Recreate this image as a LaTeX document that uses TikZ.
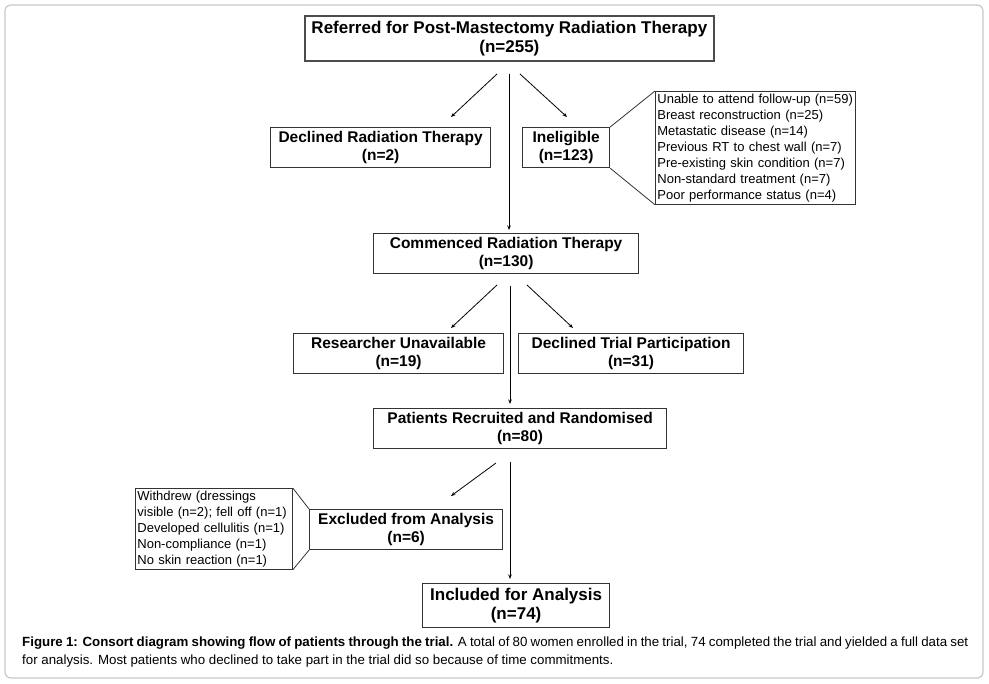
\documentclass[tikz,border=0pt]{standalone}
\usepackage{fontspec}
\setmainfont{Liberation Sans}
\usetikzlibrary{arrows.meta}
\begin{document}
\begin{tikzpicture}[x=1pt,y=-1pt,
  box/.style={draw=black!80, line width=1.2pt, align=center, inner sep=0pt, anchor=north west,
    font=\bfseries\fontsize{15.5}{17.5}\selectfont},
  bigbox/.style={box, font=\bfseries\fontsize{17}{19}\selectfont},
  topbox/.style={bigbox, draw=black!70, line width=1.8pt},
  callout/.style={draw=black!80, line width=0.8pt, align=left, inner xsep=2pt, inner ysep=0pt, anchor=north west,
    font=\fontsize{13}{16}\selectfont},
  arr/.style={-{Stealth[length=4.5pt,width=3.5pt]}, line width=0.8pt},
  link/.style={line width=0.8pt, draw=black!80}]
\useasboundingbox (0,0) rectangle (989,684);
\draw[draw=black!22, line width=1.2pt, rounded corners=6pt] (5,5) rectangle (983,678);

% boxes
\node[topbox, minimum width=409pt, minimum height=45pt] (ref) at (304,15) {Referred for Post-Mastectomy Radiation Therapy\\(n=255)};
\node[box, minimum width=220pt, minimum height=40pt] (decrt) at (270,127) {Declined Radiation Therapy\\(n=2)};
\node[box, minimum width=87pt, minimum height=40pt] (inel) at (522,127) {Ineligible\\(n=123)};
\node[callout, text width=196pt, minimum height=113pt] (why) at (655,91) {Unable to attend follow-up (n=59)\\Breast reconstruction (n=25)\\Metastatic disease (n=14)\\Previous RT to chest wall (n=7)\\Pre-existing skin condition (n=7)\\Non-standard treatment (n=7)\\Poor performance status (n=4)};
\node[box, minimum width=265pt, minimum height=40pt] (comm) at (373,233) {Commenced Radiation Therapy\\(n=130)};
\node[box, minimum width=210pt, minimum height=40pt] (resun) at (293,333) {Researcher Unavailable\\(n=19)};
\node[box, minimum width=225pt, minimum height=40pt] (dectp) at (518,333) {Declined Trial Participation\\(n=31)};
\node[box, minimum width=293pt, minimum height=40pt] (recr) at (373,408) {Patients Recruited and Randomised\\(n=80)};
\node[box, minimum width=193pt, minimum height=40pt] (excl) at (309,509) {Excluded from Analysis\\(n=6)};
\node[callout, text width=153pt, minimum height=81pt] (whyx) at (135,488) {Withdrew (dressings\\visible (n=2); fell off (n=1)\\Developed cellulitis (n=1)\\Non-compliance (n=1)\\No skin reaction (n=1)};
\node[bigbox, minimum width=187pt, minimum height=44pt] (incl) at (422,583) {Included for Analysis\\(n=74)};

% caption
\node[anchor=north west, inner sep=0pt, align=left, font=\fontsize{13.3}{18}\selectfont] (cap) at (22,637)
  {\makebox[946pt][s]{\textbf{Figure 1: Consort diagram showing flow of patients through the trial.} A total of 80 women enrolled in the trial, 74 completed the trial and yielded a full data set}\\for analysis. Most patients who declined to take part in the trial did so because of time commitments.};

% connectors, first stage
\coordinate (s1) at (509,74);
\coordinate (l1s) at (497,74); \coordinate (l1e) at (451,117);
\coordinate (r1s) at (520,74); \coordinate (r1e) at (567,117);
\draw[arr, shorten >=3pt] (s1) -- (s1 |- comm.north);
\draw[arr] (l1s) -- (l1e);
\draw[arr] (r1s) -- (r1e);
\draw[link] (inel.north east) -- (why.north west);
\draw[link] (inel.south east) -- (why.south west);

% second stage
\coordinate (s2) at (510,286);
\coordinate (l2s) at (497,285); \coordinate (l2e) at (451,328);
\coordinate (r2s) at (527,285); \coordinate (r2e) at (573,328);
\draw[arr, shorten >=4pt] (s2) -- (s2 |- recr.north);
\draw[arr] (l2s) -- (l2e);
\draw[arr] (r2s) -- (r2e);

% third stage
\coordinate (s3) at (510,462);
\coordinate (l3s) at (496,463); \coordinate (l3e) at (451,496);
\draw[arr, shorten >=4pt] (s3) -- (s3 |- incl.north);
\draw[arr] (l3s) -- (l3e);
\draw[link] (whyx.north east) -- (excl.north west);
\draw[link] (whyx.south east) -- (excl.south west);
\end{tikzpicture}
\end{document}
